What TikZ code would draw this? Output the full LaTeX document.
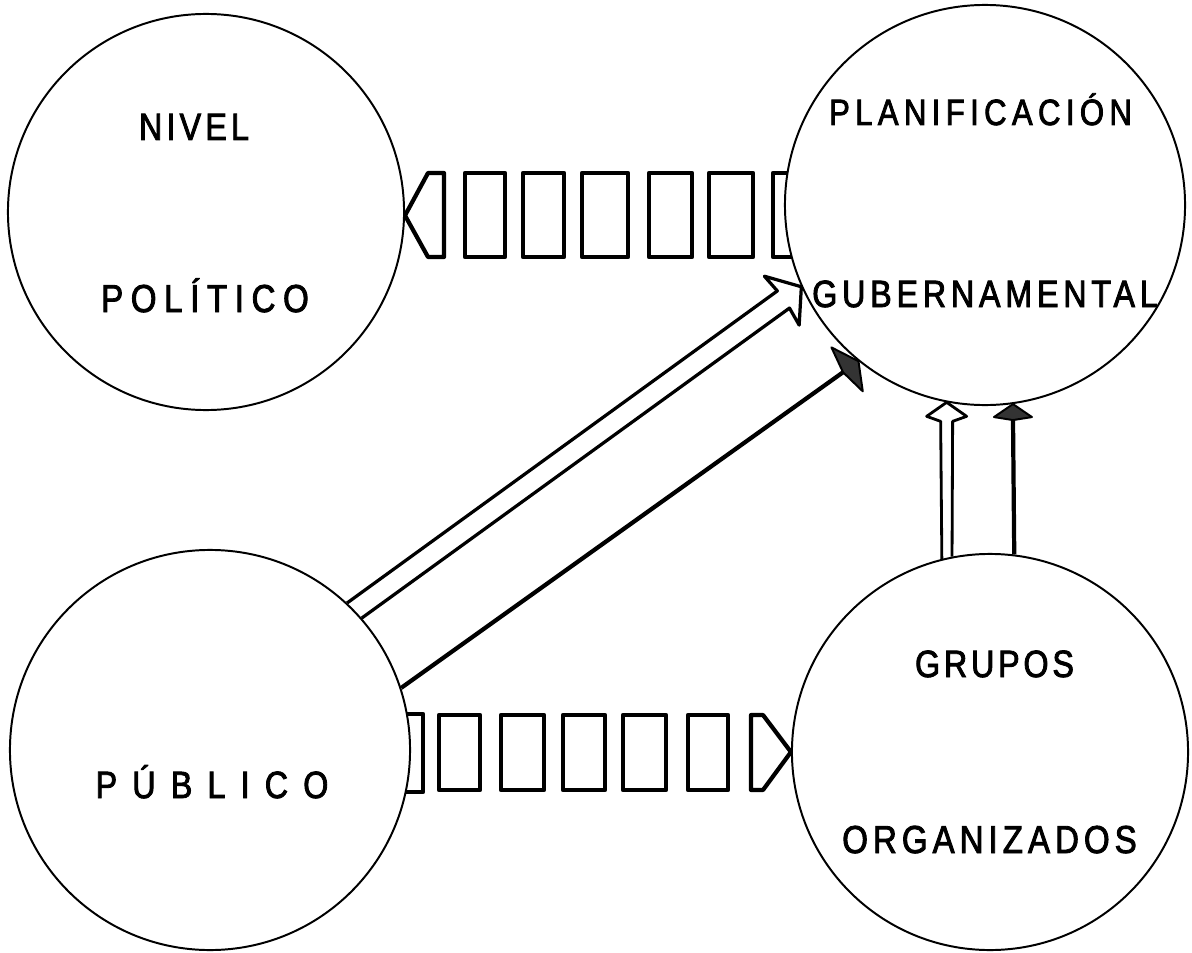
\documentclass[tikz,border=0pt]{standalone}
\usepackage{fontspec}
\newfontfamily\hand[FakeStretch=0.85, FakeBold=2.2]{Liberation Sans}
\newcommand{\lsp}[3]{{\hand\fontsize{#1}{#1}\selectfont\addfontfeature{LetterSpace=#2}#3}}
\begin{document}
\begin{tikzpicture}[x=0.025cm, y=-0.025cm,
  circ/.style={circle, draw, line width=1.4pt, inner sep=0pt},
  blk/.style={line width=3pt, line join=round},
  dline/.style={line width=2.3pt, line join=round},
  sline/.style={line width=3pt},
  vline/.style={line width=2pt, line join=round},
  darkhead/.style={draw, fill=black!80, line width=1.4pt, line join=round},
  lbl/.style={anchor=base, inner sep=0pt}]
\useasboundingbox (0,0) rectangle (1192,953);
\fill[white] (0,0) rectangle (1192,953);

% circles
\node[circ, minimum size=9.9cm] (nivel) at (206,212) {};
\node[circ, minimum size=10cm] (plan) at (985,205) {};
\node[circ, minimum size=10cm] (pub) at (210,750) {};
\node[circ, minimum size=9.9cm] (grupos) at (990,752) {};

% texts
\node[lbl] (t1) at (194,140) {\lsp{27pt}{11}{NIVEL}};
\node[lbl] (t2) at (205,312) {\lsp{27.7pt}{19.5}{POLÍTICO}};
\node[lbl] (t3) at (980.5,125) {\lsp{26pt}{14.7}{PLANIFICACIÓN}};
\node[lbl] (t4) at (985,307) {\lsp{27pt}{12.6}{GUBERNAMENTAL}};
\node[lbl] (t5) at (212,798) {\lsp{27pt}{40}{PÚBLICO}};
\node[lbl] (t6) at (994.5,677) {\lsp{27pt}{10}{GRUPOS}};
\node[lbl] (t7) at (989.5,853) {\lsp{27.7pt}{12.8}{ORGANIZADOS}};

% upper chain: plan -> nivel
\coordinate (tipL) at (nivel.-1);
\draw[blk] (tipL) -- (428,173) -- (444,173) -- (444,257) -- (428,257) -- cycle;
\foreach \a/\b in {465/505, 523/564, 582/628, 649/692, 709/753}
  \draw[blk] (\a,173) rectangle (\b,257);
\draw[blk] (788,173) -- (773,173) -- (773,257) -- (792,257);

% lower chain: pub -> grupos
\coordinate (tipR) at (grupos.180);
\draw[blk] (407,714) -- (423,714) -- (423,792) -- (406,792);
\foreach \a/\b in {439/480, 501/544, 563/605, 623/666, 688/728}
  \draw[blk] (\a,715) rectangle (\b,790);
\draw[blk] (751,715) -- (763,715) -- (tipR) -- (763,790) -- (751,790) -- cycle;

% hollow diagonal arrow pub -> plan
\coordinate (hT) at (plan.204.8);
\begin{scope}[shift={(hT)}, rotate=35.4]
  \draw[dline] (pub.47.8) -- (-22,-10.5) -- (-24,-30) -- (0,0) -- (-24,30) -- (-22,10.5) -- (pub.41.2);
\end{scope}

% solid diagonal arrow pub -> plan
\coordinate (sT) at (plan.231);
\begin{scope}[shift={(sT)}, rotate=35.5]
  \draw[sline] (pub.18.6) -- (-18,0);
  \draw[darkhead] (0,0) -- (-14,-27) -- (-19,0) -- (-14,27) -- cycle;
\end{scope}

% hollow vertical arrow grupos -> plan
\coordinate (vT1) at (plan.-101.4);
\begin{scope}[shift={(vT1)}]
  \draw[vline] (grupos.104.9) -- (-6,19) -- (-20,14) -- (0,0) -- (20,14) -- (6,19) -- (grupos.101.4);
\end{scope}

% solid vertical arrow grupos -> plan
\coordinate (vT2) at (plan.-82.4);
\begin{scope}[shift={(vT2)}]
  \draw[sline] (grupos.83.3) -- (0,12);
  \draw[darkhead] (0,0) -- (-19,13) -- (0,16) -- (19,13) -- cycle;
\end{scope}
\end{tikzpicture}
\end{document}
